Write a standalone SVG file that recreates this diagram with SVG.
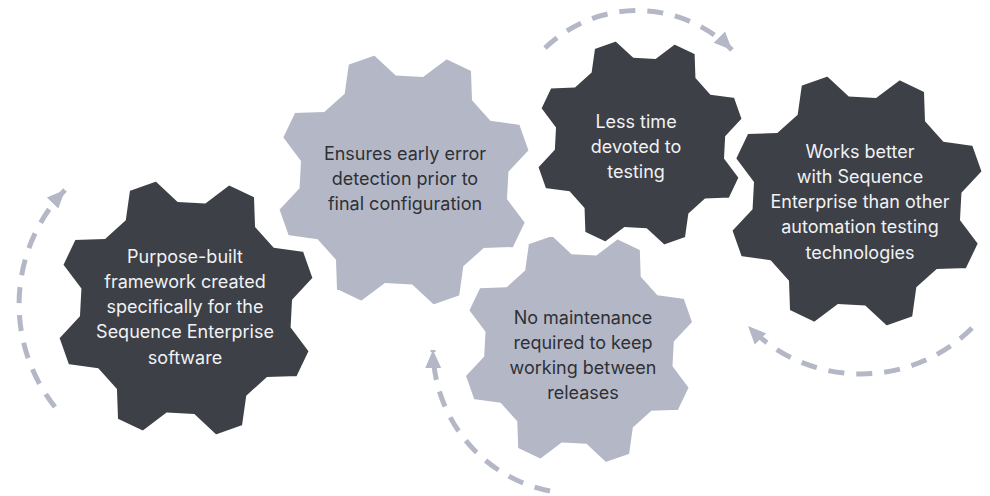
<svg xmlns="http://www.w3.org/2000/svg" xmlns:xlink="http://www.w3.org/1999/xlink" width="990" height="496" viewBox="0 0 990 496">
<style>
.dark{fill:#3d4047;stroke:#ffffff;stroke-width:3;stroke-linejoin:miter}
.light{fill:#b4b8c6;stroke:#ffffff;stroke-width:3;stroke-linejoin:miter}
.t{font-family:Inter,"Liberation Sans",sans-serif;font-size:18px;text-anchor:middle}
.tl{fill:#f1f2f4}
.td{fill:#2e3036}
.arc{fill:none;stroke:#b4b8c6;stroke-width:5;stroke-dasharray:16 12;marker-end:url(#ah)}
</style>
<defs>
<marker id="ah" markerUnits="userSpaceOnUse" markerWidth="22" markerHeight="20" viewBox="0 -10 22 20" refX="18" refY="0" orient="auto">
<path d="M0,-8 L18,0 L0,8 Z" fill="#b4b8c6"/>
</marker>
<path id="gear" d="M81.39,9.99 L96.13,27.56 L87.46,48.48 L64.62,50.48 L50.48,64.62 L48.48,87.46 L27.56,96.13 L9.99,81.39 L-9.99,81.39 L-27.56,96.13 L-48.48,87.46 L-50.48,64.62 L-64.62,50.48 L-87.46,48.48 L-96.13,27.56 L-81.39,9.99 L-81.39,-9.99 L-96.13,-27.56 L-87.46,-48.48 L-64.62,-50.48 L-50.48,-64.62 L-48.48,-87.46 L-27.56,-96.13 L-9.99,-81.39 L9.99,-81.39 L27.56,-96.13 L48.48,-87.46 L50.48,-64.62 L64.62,-50.48 L87.46,-48.48 L96.13,-27.56 L81.39,-9.99 Z"/>
</defs>
<g id="connectors">
<path class="arc" d="M55,407 A165,165 0 0 1 65,190"/>
<path class="arc" d="M545,48 A133,133 0 0 1 732,50"/>
<path class="arc" d="M972,328 A157,157 0 0 1 748,326"/>
<path class="arc" d="M550,491 A145,145 0 0 1 433,350"/>
</g>
<g id="gear2">
<use xlink:href="#gear" class="light" transform="translate(404,180) rotate(3) scale(1.3)"/>
<text class="t td" x="405" y="160">Ensures early error</text>
<text class="t td" x="405" y="185">detection prior to</text>
<text class="t td" x="405" y="210">final configuration</text>
</g>
<g id="gear1">
<use xlink:href="#gear" class="dark" transform="translate(186,308) rotate(3) scale(1.32)"/>
<text class="t tl" x="185" y="263">Purpose-built</text>
<text class="t tl" x="185" y="288">framework created</text>
<text class="t tl" x="185" y="313">specifically for the</text>
<text class="t tl" x="185" y="338">Sequence Enterprise</text>
<text class="t tl" x="185" y="364">software</text>
</g>
<g id="gear3">
<use xlink:href="#gear" class="dark" transform="translate(640,143) rotate(3) scale(1.06)"/>
<text class="t tl" x="636" y="128">Less time</text>
<text class="t tl" x="636" y="153">devoted to</text>
<text class="t tl" x="636" y="178">testing</text>
</g>
<g id="gear5">
<use xlink:href="#gear" class="light" transform="translate(579,349) rotate(3) scale(1.18)"/>
<text class="t td" x="583" y="324">No maintenance</text>
<text class="t td" x="583" y="349">required to keep</text>
<text class="t td" x="583" y="374">working between</text>
<text class="t td" x="583" y="399">releases</text>
</g>
<g id="gear4">
<use xlink:href="#gear" class="dark" transform="translate(857,201) rotate(3) scale(1.3)"/>
<text class="t tl" x="860" y="158">Works better</text>
<text class="t tl" x="860" y="183">with Sequence</text>
<text class="t tl" x="860" y="208">Enterprise than other</text>
<text class="t tl" x="860" y="233">automation testing</text>
<text class="t tl" x="860" y="259">technologies</text>
</g>
</svg>
